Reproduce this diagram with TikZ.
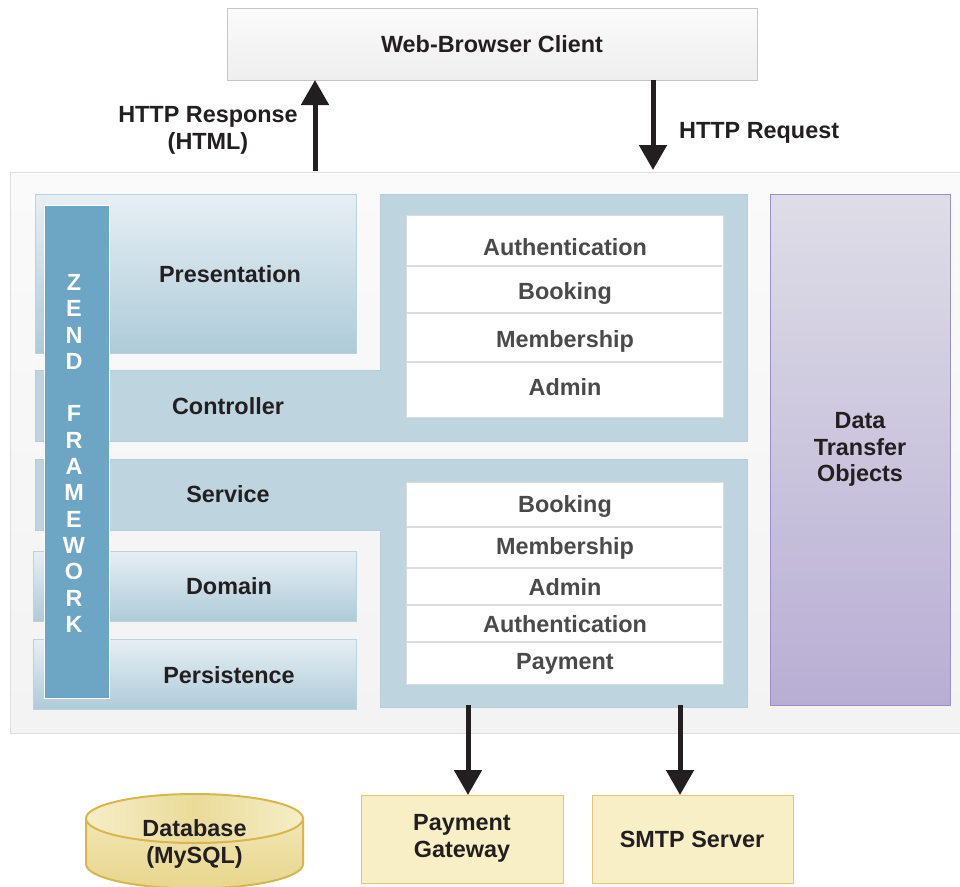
\documentclass[tikz,border=0pt]{standalone}
\usepackage{fontspec}
\setmainfont{Liberation Sans}
\usetikzlibrary{arrows.meta}
\definecolor{ink}{HTML}{231F20}
\definecolor{itemgray}{HTML}{4A4A4A}
\definecolor{browserTop}{HTML}{FBFBFB}
\definecolor{browserBot}{HTML}{EEEEEE}
\definecolor{browserLine}{HTML}{C6C6C6}
\definecolor{panelTop}{HTML}{FAFAFA}
\definecolor{panelBot}{HTML}{F3F3F3}
\definecolor{panelLine}{HTML}{DEDEDE}
\definecolor{presTop}{HTML}{E7EFF4}
\definecolor{presBot}{HTML}{AECBD8}
\definecolor{presLine}{HTML}{B9D2DE}
\definecolor{ctlFill}{HTML}{BED4DE}
\definecolor{ctlLine}{HTML}{B6CEDA}
\definecolor{zendFill}{HTML}{6CA6C4}
\definecolor{listLine}{HTML}{DCDCDC}
\definecolor{dtoTop}{HTML}{DEDDE7}
\definecolor{dtoBot}{HTML}{B8AED4}
\definecolor{dtoLine}{HTML}{9B8FC6}
\definecolor{yelFill}{HTML}{F8EFC7}
\definecolor{yelLine}{HTML}{E2C96D}
\definecolor{dbLight}{HTML}{F6EDC8}
\definecolor{dbMid}{HTML}{EADB98}
\definecolor{dbTop}{HTML}{F2E6B4}
\definecolor{dbBot}{HTML}{E8D68C}
\definecolor{dbLine}{HTML}{D8B64E}
\begin{document}
\begin{tikzpicture}[x=1pt,y=-1pt,
  txtfont/.style={font=\fontsize{23.4}{26.5}\selectfont\bfseries},
  lbl/.style={txtfont, inner sep=0pt, text height=17pt, text depth=0pt, text=ink},
  itemlbl/.style={lbl, text=itemgray},
  mlbl/.style={txtfont, inner sep=0pt, align=center, anchor=north, text=ink},
  zl/.style={font=\fontsize{23.4}{26}\selectfont\bfseries, inner sep=0pt, text height=16.8pt, text depth=0pt, text=white},
  box/.style={rectangle, inner sep=0pt, outer sep=0pt, anchor=north west},
  layerbox/.style={box, top color=presTop, bottom color=presBot, draw=presLine, line width=0.8pt},
  yelbox/.style={box, fill=yelFill, draw=yelLine, line width=1pt},
  listbox/.style={box, fill=white, draw=listLine, line width=1pt},
  divider/.style={draw=listLine, line width=1.2pt},
  bigarrow/.style={line width=5pt, draw=ink, -{Triangle[width=27pt,length=25pt]}}
]
\useasboundingbox (0,0) rectangle (960,886);
\clip (0,0) rectangle (960,886);

% Web browser client
\node[box, minimum width=530pt, minimum height=72pt, top color=browserTop, bottom color=browserBot, draw=browserLine, line width=1pt] (browser) at (227,8) {};
\node[lbl] (browsertxt) at (492,44) {Web-Browser Client};

% Main panel
\node[box, minimum width=960pt, minimum height=561pt, top color=panelTop, bottom color=panelBot, draw=panelLine, line width=1pt] (panel) at (10,172) {};

% Presentation
\node[layerbox, minimum width=321pt, minimum height=159pt] (pres) at (35,194) {};

% Controller L-shape
\draw[fill=ctlFill, draw=ctlLine, line width=0.8pt] (35,370) -- (380,370) -- (380,194) -- (747,194) -- (747,441) -- (35,441) -- cycle;
% Service L-shape
\draw[fill=ctlFill, draw=ctlLine, line width=0.8pt] (35,459) -- (747,459) -- (747,707) -- (380,707) -- (380,530) -- (35,530) -- cycle;

% Domain and Persistence
\node[layerbox, minimum width=323pt, minimum height=70pt] (domain) at (33,551) {};
\node[layerbox, minimum width=323pt, minimum height=70pt] (persist) at (33,639) {};

% Controller list
\node[listbox, minimum width=317pt, minimum height=202pt] (ctllist) at (406,215) {};
\foreach \yy in {266,313,362} \draw[divider] (407,\yy) -- (722,\yy);
\node[itemlbl] (c1) at (565,247) {Authentication};
\node[itemlbl] (c2) at (565,291) {Booking};
\node[itemlbl] (c3) at (565,339) {Membership};
\node[itemlbl] (c4) at (565,387) {Admin};

% Service list
\node[listbox, minimum width=317pt, minimum height=202pt] (svclist) at (406,482) {};
\foreach \yy in {527,568,605,642} \draw[divider] (407,\yy) -- (722,\yy);
\node[itemlbl] (s1) at (565,504) {Booking};
\node[itemlbl] (s2) at (565,546) {Membership};
\node[itemlbl] (s3) at (565,587) {Admin};
\node[itemlbl] (s4) at (565,624) {Authentication};
\node[itemlbl] (s5) at (565,661) {Payment};

% Zend framework bar
\node[box, minimum width=65pt, minimum height=493pt, fill=zendFill, draw=white, line width=1pt] (zend) at (44,205) {};
\foreach \l/\k in {Z/0,E/1,N/2,D/3,F/5,R/6,A/7,M/8,E/9,W/10,O/11,R/12,K/13}
  \node[zl] (z\k) at (74,{282+\k*26.3}) {\l};

% Layer labels
\node[lbl] (prestxt) at (230,274) {Presentation};
\node[lbl] (ctltxt) at (228,406) {Controller};
\node[lbl] (svctxt) at (228,494) {Service};
\node[lbl] (domtxt) at (229,586) {Domain};
\node[lbl] (pertxt) at (229,675) {Persistence};

% Data transfer objects
\node[box, minimum width=180pt, minimum height=511pt, top color=dtoTop, bottom color=dtoBot, draw=dtoLine, line width=1pt] (dto) at (770,194) {};
\node[mlbl] (dtotxt) at (860,412.5) {Data\\Transfer\\Objects};

% HTTP arrows
\coordinate (respstart) at (315,171);
\draw[bigarrow] (respstart) -- (browser.south -| respstart);
\node[mlbl] (resptxt) at (208,106.5) {HTTP Response\\(HTML)};
\coordinate (reqend) at (653,170);
\draw[bigarrow] (browser.south -| reqend) -- (reqend);
\node[lbl, anchor=west] (reqtxt) at (679,130) {HTTP Request};

% External systems
\node[yelbox, minimum width=202pt, minimum height=88pt] (pay) at (361,795) {};
\node[mlbl] (paytxt) at (462,814.5) {Payment\\Gateway};
\node[yelbox, minimum width=201pt, minimum height=88pt] (smtp) at (592,795) {};
\node[lbl] (smtptxt) at (692,839) {SMTP Server};

\coordinate (svcpay) at (468,705);
\coordinate (svcsmtp) at (680,705);
\draw[bigarrow] (svcpay) -- (svcpay |- pay.north);
\draw[bigarrow] (svcsmtp) -- (svcsmtp |- smtp.north);

% Database cylinder
\draw[top color=dbTop, bottom color=dbBot, draw=dbLine, line width=2pt]
  (86,818.5) -- (86,864) arc[start angle=180, end angle=360, x radius=108.5pt, y radius=24.5pt] -- (303,818.5) -- cycle;
\draw[left color=dbLight, right color=dbLight, middle color=dbMid, draw=dbLine, line width=2pt]
  (194.5,818.5) ellipse[x radius=108.5pt, y radius=24.5pt];
\node[mlbl] (dbtxt) at (194.5,819.5) {Database\\(MySQL)};
\end{tikzpicture}
\end{document}
